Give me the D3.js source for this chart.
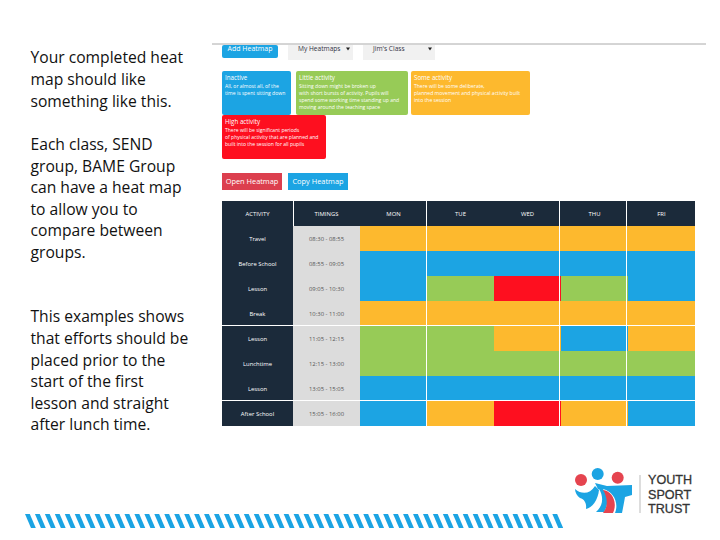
<!DOCTYPE html>
<html>
<head>
<meta charset="utf-8">
<script src="https://cdn.jsdelivr.net/npm/d3@7"></script>
<style>
  html, body { margin: 0; padding: 0; background: #fff; }
  svg { display: block; }
</style>
</head>
<body>
<svg id="chart"></svg>
<script>
const days = ["MON", "TUE", "WED", "THU", "FRI"];
const activities = ["Travel", "Before School", "Lesson", "Break", "Lesson", "Lunchtime", "Lesson", "After School"];
const timings = ["08:30 - 08:55", "08:55 - 09:05", "09:05 - 10:30", "10:30 - 11:00", "11:05 - 12:15", "12:15 - 13:00", "13:05 - 15:05", "15:05 - 16:00"];
// activity level per row, mon..fri
const levels = [
  ["Some", "Some", "Some", "Some", "Some"],
  ["Inactive", "Inactive", "Inactive", "Inactive", "Inactive"],
  ["Inactive", "Little", "High", "Little", "Inactive"],
  ["Some", "Some", "Some", "Some", "Some"],
  ["Little", "Little", "Some", "Inactive", "Some"],
  ["Little", "Little", "Little", "Little", "Little"],
  ["Inactive", "Inactive", "Inactive", "Inactive", "Inactive"],
  ["Inactive", "Some", "High", "Some", "Inactive"]
];
const levelNames = ["Inactive", "Little", "Some", "High"];
const levelColors = ["#1ca4e3", "#97cb57", "#fdb92e", "#fe0f1f"];
const introLines = [
  ["Your completed heat", "map should like", "something like this."],
  ["Each class, SEND", "group, BAME Group", "can have a heat map", "to allow you to", "compare between", "groups."],
  ["This examples shows", "that efforts should be", "placed prior to the", "start of the first", "lesson and straight", "after lunch time."]
];
const legendText = [
  ["Inactive", "All, or almost all, of the", "time is spent sitting down"],
  ["Little activity", "Sitting down might be broken up", "with short bursts of activity. Pupils will", "spend some working time standing up and", "moving around the teaching space"],
  ["Some activity", "There will be some deliberate,", "planned movement and physical activity built", "into the session"],
  ["High activity", "There will be significant periods", "of physical activity that are planned and", "built into the session for all pupils"]
];
const logoWords = ["YOUTH", "SPORT", "TRUST"];

const width = 720, height = 540;
const dark = "#1b2a3a", grey = "#dcdcdc", blue = "#1ca4e3", logoRed = "#e5444f";
const font = "'Open Sans', sans-serif";

const svg = d3.select("#chart").attr("width", width).attr("height", height);
const color = d3.scaleOrdinal().domain(levelNames).range(levelColors);

// left hand text
const introTops = [58, 144.5, 317];
introLines.forEach((lines, i) => {
  svg.append("g").selectAll("text").data(lines).enter().append("text")
    .attr("x", 30.5)
    .attr("y", (d, j) => introTops[i] + j * 21.6)
    .attr("dy", "0.35em")
    .attr("font-family", font)
    .attr("font-size", 15.65)
    .attr("font-weight", 500)
    .attr("fill", "#111")
    .text(d => d);
});

// top rule and cropped controls
svg.append("line").attr("x1", 212).attr("x2", 706).attr("y1", 44).attr("y2", 44).attr("stroke", "#aaa");
svg.append("rect").attr("x", 222).attr("y", 45).attr("width", 56).attr("height", 13).attr("rx", 2).attr("fill", blue);
svg.append("text").attr("x", 250).attr("y", 49).attr("dy", "0.35em").attr("text-anchor", "middle")
  .attr("font-family", font).attr("font-size", 7).attr("fill", "#fff").text("Add Heatmap");
const selects = [[288, 65, "My Heatmaps"], [363, 72, "Jim's Class"]];
selects.forEach(([x, w, label]) => {
  svg.append("rect").attr("x", x).attr("y", 45).attr("width", w).attr("height", 15).attr("fill", "#f1f1f1");
  svg.append("text").attr("x", x + 10).attr("y", 49).attr("dy", "0.35em")
    .attr("font-family", font).attr("font-size", 6.6).attr("fill", "#334").text(label);
  svg.append("path").attr("d", `M${x + w - 7},47.5h4l-2,3z`).attr("fill", "#222");
});

// legend boxes
const legendBoxes = [[222, 71, 69, 44], [296, 71, 112, 44], [411, 71, 119, 44], [222, 115, 104, 44]];
legendBoxes.forEach(([x, y, w, h], i) => {
  svg.append("rect").attr("x", x).attr("y", y).attr("width", w).attr("height", h).attr("rx", 2)
    .attr("fill", color(levelNames[i]));
  svg.append("g").selectAll("text").data(legendText[i]).enter().append("text")
    .attr("x", x + 3)
    .attr("y", (d, j) => y + 7 + j * 7.3 + (j ? 0.5 : 0))
    .attr("dy", "0.35em")
    .attr("font-family", font)
    .attr("font-size", (d, j) => j ? 5.05 : 6.2)
    .attr("fill", "#fff")
    .text(d => d);
});

// buttons
const buttons = [[222, 60, "#dc3f4e", "Open Heatmap"], [288, 60, blue, "Copy Heatmap"]];
buttons.forEach(([x, w, fill, label]) => {
  svg.append("rect").attr("x", x).attr("y", 173).attr("width", w).attr("height", 17).attr("fill", fill);
  svg.append("text").attr("x", x + w / 2).attr("y", 181.5).attr("dy", "0.35em").attr("text-anchor", "middle")
    .attr("font-family", font).attr("font-size", 7.4).attr("fill", "#fff").text(label);
});

// heat map
const x = d3.scaleBand().domain(days).range([360, 695]);
const y = d3.scaleBand().domain(d3.range(activities.length)).range([226, 426]);
const activityX = 222, activityW = 71, timingX = 293, timingW = 67;
const table = svg.append("g");

table.append("rect").attr("x", activityX).attr("y", 201).attr("width", 473).attr("height", 25).attr("fill", dark);
table.append("rect").attr("x", activityX).attr("y", y(0)).attr("width", activityW).attr("height", y.bandwidth() * 8).attr("fill", dark);
table.append("rect").attr("x", timingX).attr("y", y(0)).attr("width", timingW).attr("height", y.bandwidth() * 8).attr("fill", grey);

const cells = levels.flatMap((row, r) => row.map((level, c) => ({ r, day: days[c], level })));
table.selectAll(".cell").data(cells).enter().append("rect")
  .attr("class", "cell")
  .attr("x", d => x(d.day))
  .attr("y", d => y(d.r))
  .attr("width", x.bandwidth())
  .attr("height", y.bandwidth())
  .attr("fill", d => color(d.level));

// white rules
[325.5, 400.5].forEach(v => {
  table.append("line").attr("x1", activityX).attr("x2", 695).attr("y1", v).attr("y2", v).attr("stroke", "#fff");
});
[426.5, 559.5, 626.5].forEach(v => {
  table.append("line").attr("x1", v).attr("x2", v).attr("y1", 201).attr("y2", 426).attr("stroke", "#fff");
});
table.append("line").attr("x1", 293.5).attr("x2", 293.5).attr("y1", 201).attr("y2", 226).attr("stroke", "#fff");

const smallText = (sel, fill) => sel
  .attr("dy", "0.35em")
  .attr("text-anchor", "middle")
  .attr("font-family", font)
  .attr("font-size", 5.9)
  .attr("fill", fill);

table.append("text").attr("x", activityX + activityW / 2).attr("y", 213.5).call(smallText, "#fff").text("ACTIVITY");
table.append("text").attr("x", timingX + timingW / 2).attr("y", 213.5).call(smallText, "#fff").text("TIMINGS");
table.selectAll(".day").data(days).enter().append("text")
  .attr("class", "day")
  .attr("x", d => x(d) + x.bandwidth() / 2)
  .attr("y", 213.5)
  .call(smallText, "#fff")
  .text(d => d);
table.selectAll(".activity").data(activities).enter().append("text")
  .attr("class", "activity")
  .attr("x", activityX + activityW / 2)
  .attr("y", (d, i) => y(i) + y.bandwidth() / 2)
  .call(smallText, "#fff")
  .text(d => d);
table.selectAll(".timing").data(timings).enter().append("text")
  .attr("class", "timing")
  .attr("x", timingX + timingW / 2)
  .attr("y", (d, i) => y(i) + y.bandwidth() / 2)
  .call(smallText, "#555")
  .text(d => d);

// striped footer band
svg.append("g").selectAll("path").data(d3.range(0, 54)).enter().append("path")
  .attr("d", i => {
    const x0 = 25 + i * 9.95;
    return `M${x0},514h4.8l6,14h-4.8z`;
  })
  .attr("fill", blue);

// logo
const logo = svg.append("g");
logo.append("circle").attr("cx", 581).attr("cy", 480).attr("r", 6).attr("fill", logoRed);
logo.append("circle").attr("cx", 597.7).attr("cy", 474).attr("r", 6).attr("fill", blue);
logo.append("circle").attr("cx", 617.7).attr("cy", 477.7).attr("r", 6).attr("fill", logoRed);
logo.append("path").attr("fill", blue)
  .attr("d", "M575,489C582,495 590,494 595,486L599,490C598,500 592,508 586,509C587,503 584,499 580,498C577,496 575,492 575,489Z");
logo.append("path").attr("fill", blue)
  .attr("d", "M595,483L607,486L632,485L632,495L625,497C624,503 623,508 622,513L615,513C619,503 614,492 603,489L598,489Z");
logo.append("path").attr("fill", blue)
  .attr("d", "M599,489C604,497 603,506 596,512L604,512C609,504 608,496 603,489Z");
logo.append("path").attr("fill", logoRed)
  .attr("d", "M603,490C612,491 618,502 613,513L603,513C608,507 608,498 603,490Z");
logo.append("line").attr("x1", 640).attr("x2", 640).attr("y1", 475).attr("y2", 513).attr("stroke", "#bbb");
logo.selectAll("text").data(logoWords).enter().append("text")
  .attr("x", 648)
  .attr("y", (d, i) => 484 + i * 14.6)
  .attr("font-family", "'Liberation Sans', sans-serif")
  .attr("font-size", 12.6)
  .attr("stroke", "#333")
  .attr("stroke-width", 0.3)
  .attr("fill", "#333")
  .text(d => d);
</script>
</body>
</html>
